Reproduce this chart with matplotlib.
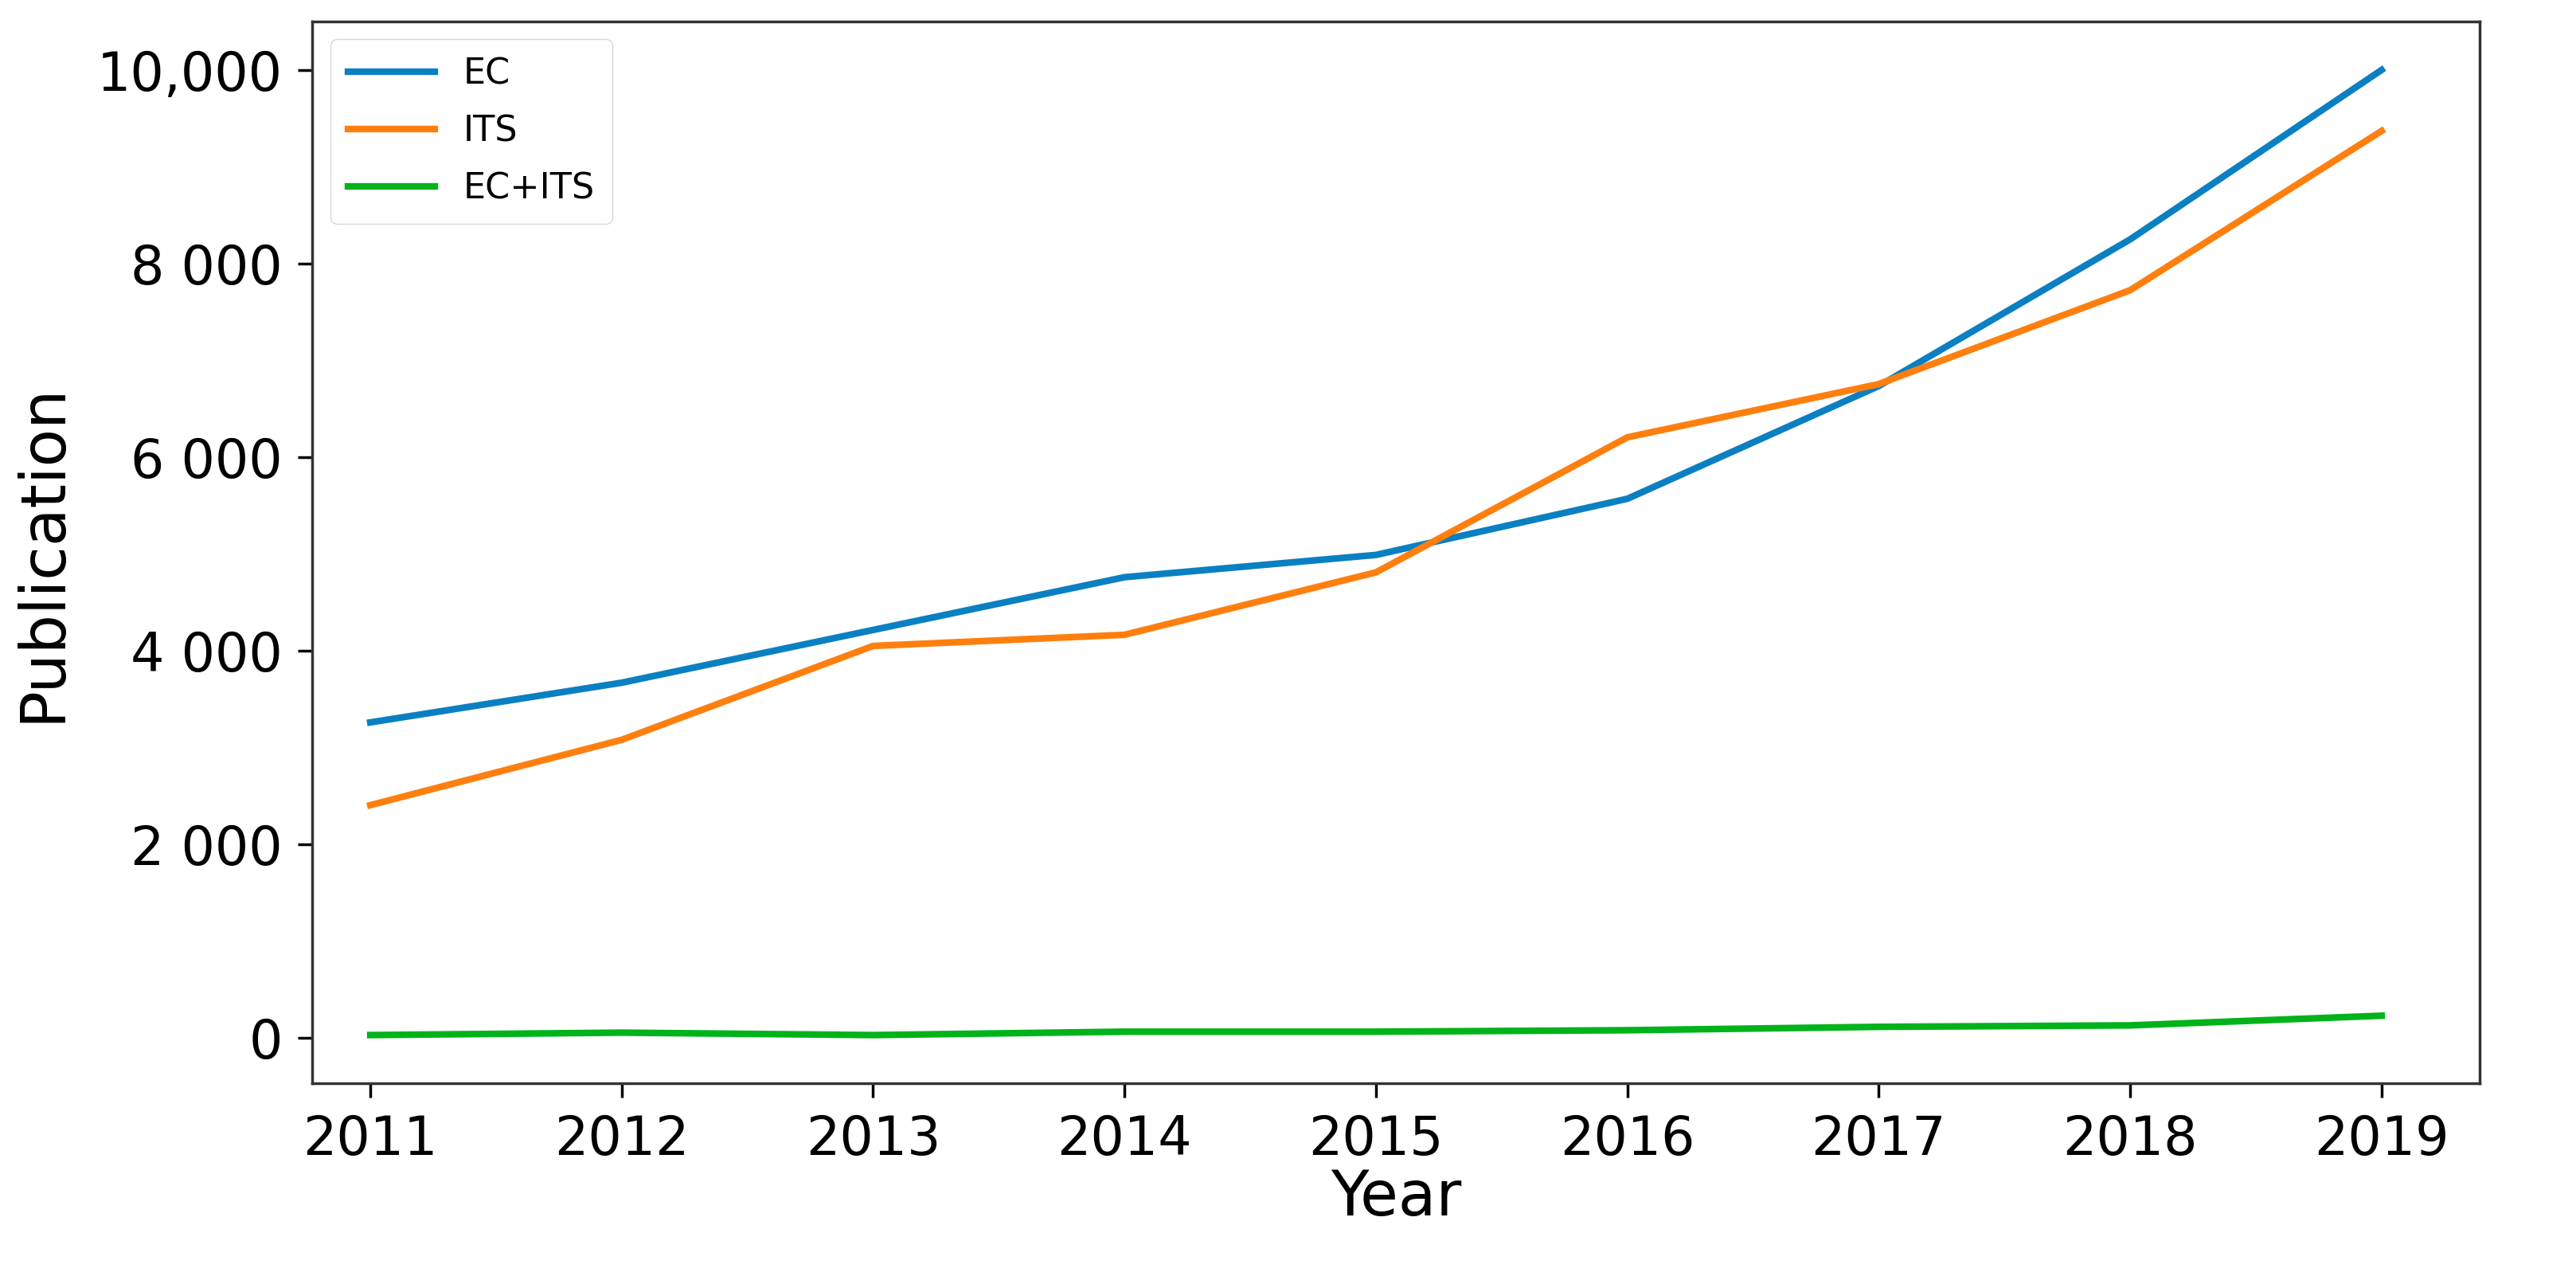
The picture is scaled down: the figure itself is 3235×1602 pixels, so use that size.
import matplotlib
matplotlib.use('Agg')
import matplotlib.pyplot as plt
from matplotlib.ticker import FixedLocator, FixedFormatter

years = [2011, 2012, 2013, 2014, 2015, 2016, 2017, 2018, 2019]
ec = [3260, 3670, 4215, 4760, 4990, 5570, 6735, 8250, 10000]
its = [2405, 3080, 4050, 4165, 4810, 6205, 6755, 7725, 9370]
ec_its = [30, 55, 30, 65, 65, 80, 115, 130, 230]
y_ticks = [0, 2000, 4000, 6000, 8000, 10000]
y_labels = ['0', '2 000', '4 000', '6 000', '8 000', '10,000']

fig = plt.figure(figsize=(32.35, 16.02), dpi=100)
ax = fig.add_axes([0.1213, 0.151, 0.8413, 0.832])

# the three series
ax.plot(years, ec, color='#0a80c2', lw=6, label='EC')
ax.plot(years, its, color='#ff7f0e', lw=6, label='ITS')
ax.plot(years, ec_its, color='#00b31a', lw=6, label='EC+ITS')

ax.set_xticks(years)
ax.set_xlim(2010.77, 2019.39)
ax.yaxis.set_major_locator(FixedLocator(y_ticks))
ax.yaxis.set_major_formatter(FixedFormatter(y_labels))

ax.tick_params(labelsize=48, length=13, width=2.5, pad=14, colors='black')
ax.set_xlabel('Year', fontsize=56, labelpad=2)
ax.set_ylabel('Publication', fontsize=56, labelpad=22)
for s in ax.spines.values():
    s.set_linewidth(2.5)
    s.set_color('#333333')

ax.legend(loc='upper left', fontsize=32, handlelength=2.45, borderpad=0.5, labelspacing=0.65)

fig.savefig('out.png', dpi=100)
